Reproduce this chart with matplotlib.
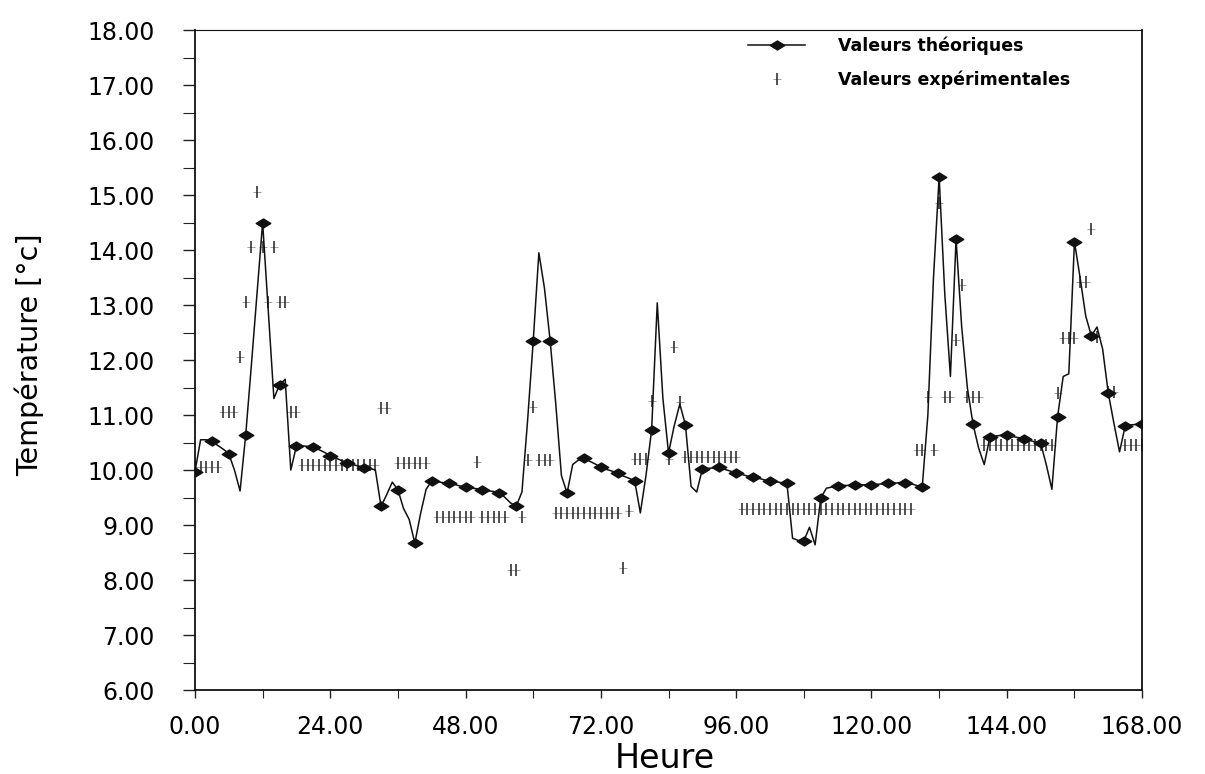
import numpy as np
import matplotlib
matplotlib.use("Agg")
import matplotlib.pyplot as plt
from matplotlib.path import Path
from matplotlib.ticker import MultipleLocator, FormatStrFormatter
from matplotlib.legend_handler import HandlerTuple

# hourly time axis (one week)
hours = list(range(0, 169))

# theoretical temperature, hourly (diamond markers every 3 h)
theoretical = [
    9.97, 10.55, 10.55, 10.52, 10.45, 10.38, 10.30, 10.00, 9.62, 10.64, 11.90, 13.20,
    14.50, 12.90, 11.30, 11.55, 11.65, 10.00, 10.44, 10.44, 10.43, 10.42, 10.37, 10.32,
    10.26, 10.22, 10.17, 10.13, 10.10, 10.07, 10.04, 10.03, 10.00, 9.34, 9.55, 9.78,
    9.64, 9.30, 9.10, 8.67, 9.20, 9.65, 9.80, 9.79, 9.77, 9.76, 9.74, 9.71,
    9.69, 9.67, 9.66, 9.64, 9.62, 9.61, 9.59, 9.50, 9.40, 9.35, 9.60, 10.90,
    12.35, 13.95, 13.30, 12.35, 11.20, 9.90, 9.58, 10.10, 10.18, 10.22, 10.16, 10.11,
    10.05, 10.01, 9.98, 9.94, 9.89, 9.85, 9.80, 9.22, 9.90, 10.73, 13.04, 11.30,
    10.31, 10.80, 11.20, 10.82, 9.70, 9.60, 10.02, 10.03, 10.04, 10.05, 10.01, 9.98,
    9.94, 9.92, 9.89, 9.87, 9.85, 9.82, 9.80, 9.79, 9.77, 9.76, 8.76, 8.72,
    8.71, 8.96, 8.64, 9.49, 9.67, 9.69, 9.71, 9.72, 9.72, 9.73, 9.73, 9.73,
    9.73, 9.74, 9.75, 9.76, 9.76, 9.77, 9.77, 9.75, 9.72, 9.69, 11.00, 13.50,
    15.33, 13.20, 11.70, 14.20, 12.60, 11.50, 10.84, 10.40, 10.10, 10.60, 10.62, 10.63,
    10.64, 10.61, 10.59, 10.56, 10.54, 10.51, 10.49, 10.10, 9.65, 10.96, 11.70, 11.75,
    14.15, 13.50, 12.80, 12.44, 12.60, 12.20, 11.40, 10.85, 10.33, 10.80, 10.82, 10.83,
    10.84,
]

# measured temperature, hourly (None = no visible point)
experimental = [
    10.05, 10.05, 10.05, 10.05, 10.05, 11.05, 11.05, 11.05, 12.05, 13.05, 14.05, 15.05,
    14.05, 13.05, 14.05, 13.05, 13.05, 11.05, 11.05, 10.10, 10.10, 10.10, 10.10, 10.10,
    10.10, 10.10, 10.10, 10.10, 10.10, 10.10, 10.10, 10.10, 10.10, 11.13, 11.13, None,
    10.13, 10.13, 10.13, 10.13, 10.13, 10.13, None, 9.15, 9.15, 9.15, 9.15, 9.15,
    9.15, 9.15, 10.15, 9.15, 9.15, 9.15, 9.15, 9.15, 8.18, 8.18, 9.15, 10.18,
    11.15, 10.18, 10.18, 10.18, 9.22, 9.22, 9.22, 9.22, 9.22, 9.22, 9.22, 9.22,
    9.22, 9.22, 9.22, 9.22, 8.22, 9.25, 10.20, 10.20, 10.20, 11.25, None, None,
    10.20, 12.24, 11.24, 10.24, 10.24, 10.24, 10.24, 10.24, 10.24, 10.24, 10.24, 10.24,
    10.24, 9.30, 9.30, 9.30, 9.30, 9.30, 9.30, 9.30, 9.30, 9.30, 9.30, 9.30,
    9.30, 9.30, 9.30, 9.30, 9.30, 9.30, 9.30, 9.30, 9.30, 9.30, 9.30, 9.30,
    9.30, 9.30, 9.30, 9.30, 9.30, 9.30, 9.30, 9.30, 10.36, 10.36, 11.33, 10.36,
    14.85, 11.33, 11.33, 12.36, 13.36, 11.33, 11.33, 11.33, 10.45, 10.45, 10.45, 10.45,
    10.45, 10.45, 10.45, 10.45, 10.45, 10.45, 10.45, 10.45, 10.45, 11.40, 12.40, 12.40,
    12.40, 13.42, 13.42, 14.38, 12.42, None, 11.42, 11.42, None, 10.45, 10.45, 10.45,
    10.45,
]

assert len(theoretical) == len(hours) == len(experimental)

x = np.array(hours, dtype=float)
y_theo = np.array(theoretical, dtype=float)
y_exp = np.array(experimental, dtype=float)

# flattened diamond like the original plotter symbol
diamond = Path([(-1, 0), (0, 0.62), (1, 0), (0, -0.62), (-1, 0)],
               [Path.MOVETO, Path.LINETO, Path.LINETO, Path.LINETO, Path.CLOSEPOLY])

fig = plt.figure(figsize=(12.05, 7.74), dpi=100)
ax = fig.add_axes([0.1618, 0.1085, 0.786, 0.8527])

theo, = ax.plot(x, y_theo, color="#111111", lw=1.1, marker=diamond, markevery=3,
                ms=10.5, mfc="#111111", mec="#111111", zorder=3)
exp_h, = ax.plot(x, y_exp, ls="none", marker="_", ms=6, mew=0.7, color="#a0a0a0", zorder=2)
exp_v, = ax.plot(x, y_exp, ls="none", marker="|", ms=8, mew=1.1, color="#222222", zorder=2)

ax.set_xlim(0, 168)
ax.set_ylim(6, 18)
ax.xaxis.set_major_locator(MultipleLocator(24))
ax.xaxis.set_minor_locator(MultipleLocator(12))
ax.yaxis.set_major_locator(MultipleLocator(1))
ax.yaxis.set_minor_locator(MultipleLocator(0.5))
ax.xaxis.set_major_formatter(FormatStrFormatter("%.2f"))
ax.yaxis.set_major_formatter(FormatStrFormatter("%.2f"))

ax.tick_params(axis="both", which="both", direction="out", color="#222222")
ax.tick_params(axis="y", which="major", length=9, width=1.0, pad=20, labelsize=17)
ax.tick_params(axis="y", which="minor", length=9, width=0.8)
ax.tick_params(axis="x", which="major", length=6, width=1.0, pad=12, labelsize=17)
ax.tick_params(axis="x", which="minor", length=6, width=0.8)

for side in ["left", "right", "top", "bottom"]:
    ax.spines[side].set_color("#111111")
    ax.spines[side].set_linewidth(1.3)
ax.spines["top"].set_linewidth(0.8)

ax.set_xlabel("Heure", fontsize=24)
ax.set_ylabel("Température [°c]", fontsize=20.5)
ax.xaxis.set_label_coords(0.496, -0.079)
ax.yaxis.set_label_coords(-0.159, 0.508)

ax.legend([theo, (exp_h, exp_v)], ["Valeurs théoriques", "Valeurs expérimentales"],
          handler_map={tuple: HandlerTuple(ndivide=1)},
          loc="upper left", bbox_to_anchor=(0.584, 0.99), frameon=False,
          borderpad=0, borderaxespad=0, handlelength=3.3, handletextpad=1.9,
          labelspacing=0.9, prop={"size": 12.5, "weight": "bold"})

plt.savefig("out.png", dpi=100)
